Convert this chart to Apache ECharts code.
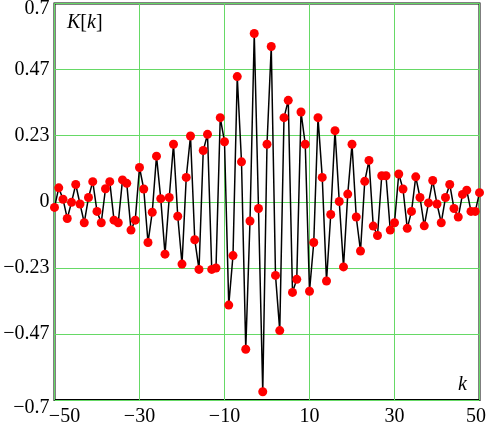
<!DOCTYPE html>
<html>
<head>
<meta charset="utf-8">
<script src="https://cdn.jsdelivr.net/npm/echarts@6/dist/echarts.min.js"></script>
<style>
  html, body { margin: 0; padding: 0; background: #fff; }
  #main { width: 486px; height: 425px; }
</style>
</head>
<body>
<div id="main"></div>
<script>
  // k = -50 .. 50
  var kValues = [
    -50, -49, -48, -47, -46, -45, -44, -43, -42, -41,
    -40, -39, -38, -37, -36, -35, -34, -33, -32, -31,
    -30, -29, -28, -27, -26, -25, -24, -23, -22, -21,
    -20, -19, -18, -17, -16, -15, -14, -13, -12, -11,
    -10, -9, -8, -7, -6, -5, -4, -3, -2, -1,
    0, 1, 2, 3, 4, 5, 6, 7, 8, 9,
    10, 11, 12, 13, 14, 15, 16, 17, 18, 19,
    20, 21, 22, 23, 24, 25, 26, 27, 28, 29,
    30, 31, 32, 33, 34, 35, 36, 37, 38, 39,
    40, 41, 42, 43, 44, 45, 46, 47, 48, 49,
    50
  ];
  // K[k]
  var kkValues = [
    -0.020, 0.049, 0.009, -0.059, -0.002, 0.061, -0.008, -0.074, 0.015, 0.071,
    -0.034, -0.074, 0.046, 0.071, -0.065, -0.074, 0.077, 0.065, -0.100, -0.065,
    0.121, 0.045, -0.144, -0.037, 0.161, 0.011, -0.185, 0.015, 0.203, -0.051,
    -0.220, 0.086, 0.232, -0.134, -0.239, 0.181, 0.238, -0.239, -0.234, 0.297,
    0.212, -0.365, -0.190, 0.442, 0.141, -0.521, -0.068, 0.594, -0.024, -0.671,
    0.203, 0.548, -0.260, -0.455, 0.297, 0.358, -0.320, -0.274, 0.317, 0.203,
    -0.316, -0.144, 0.297, 0.086, -0.280, -0.045, 0.251, 0.001, -0.230, 0.027,
    0.203, -0.054, -0.174, 0.072, 0.146, -0.086, -0.119, 0.092, 0.092, -0.100,
    -0.074, 0.098, 0.045, -0.094, -0.034, 0.088, 0.015, -0.085, -0.004, 0.075,
    -0.008, -0.074, 0.015, 0.061, -0.024, -0.054, 0.026, 0.041, -0.034, -0.034,
    0.032
  ];
  var yTickLabels = ['−0.7', '−0.47', '−0.23', '0', '0.23', '0.47', '0.7'];
  var xTickLabels = ['−50', '−30', '−10', '10', '30', '50'];

  var font = 'Liberation Serif';
  var yStep = 0.7 / 3;

  var chart = echarts.init(document.getElementById('main'));
  var option = {
    animation: false,
    title: [
      {
        text: '{i|K}{n|[}{i|k}{n|]}',
        left: 67,
        top: 13,
        padding: 0,
        textStyle: {
          fontWeight: 'normal',
          rich: {
            i: {fontFamily: font, fontSize: 20, fontStyle: 'italic', fontWeight: 'normal', color: '#000'},
            n: {fontFamily: font, fontSize: 20, fontWeight: 'normal', color: '#000'}
          }
        }
      },
      {
        text: 'k',
        left: 458,
        top: 375,
        padding: 0,
        textStyle: {fontFamily: font, fontSize: 20, fontStyle: 'italic', fontWeight: 'normal', color: '#000'}
      }
    ],
    grid: {
      left: 54.5,
      right: 6.5,
      top: 3.5,
      bottom: 25,
      containLabel: false,
      outerBoundsMode: 'none',
      show: true,
      borderColor: '#000',
      borderWidth: 2
    },
    xAxis: {
      type: 'value',
      min: -50,
      max: 50,
      interval: 20,
      axisLine: {show: false},
      axisTick: {show: false},
      splitLine: {lineStyle: {color: '#66d966', width: 1}},
      axisLabel: {
        margin: 7,
        formatter: function (v) {
          var i = Math.round((v + 50) / 20);
          var s = xTickLabels[i];
          if (i === 0) return '{l|' + s + '}';
          if (i === xTickLabels.length - 1) return '{r|' + s + '}';
          return '{n|' + s + '}';
        },
        rich: {
          n: {fontFamily: font, fontSize: 20, color: '#000'},
          l: {fontFamily: font, fontSize: 20, color: '#000', padding: [0, 0, 0, 20]},
          r: {fontFamily: font, fontSize: 20, color: '#000', padding: [0, 7, 0, 0]}
        }
      }
    },
    yAxis: {
      type: 'value',
      min: -0.7,
      max: 0.7,
      interval: yStep,
      axisLine: {show: false},
      axisTick: {show: false},
      splitLine: {lineStyle: {color: '#66d966', width: 1}},
      axisLabel: {
        margin: 5,
        formatter: function (v) {
          var i = Math.round((v + 0.7) / yStep);
          var s = yTickLabels[i];
          if (i === yTickLabels.length - 1) return '{t|' + s + '}';
          if (i === 0) return '{b|' + s + '}';
          return '{n|' + s + '}';
        },
        rich: {
          n: {fontFamily: font, fontSize: 20, color: '#000'},
          t: {fontFamily: font, fontSize: 20, color: '#000', padding: [10, 0, 0, 0]},
          b: {fontFamily: font, fontSize: 20, color: '#000', padding: [16, 0, 0, 0]}
        }
      }
    },
    series: [
      {
        type: 'line',
        data: kValues.map(function (k, i) { return [k, kkValues[i]]; }),
        symbol: 'circle',
        symbolSize: 9,
        itemStyle: {color: '#ff0000'},
        lineStyle: {color: '#000', width: 1.5},
        emphasis: {disabled: true}
      }
    ]
  };
  chart.setOption(option);
</script>
</body>
</html>
